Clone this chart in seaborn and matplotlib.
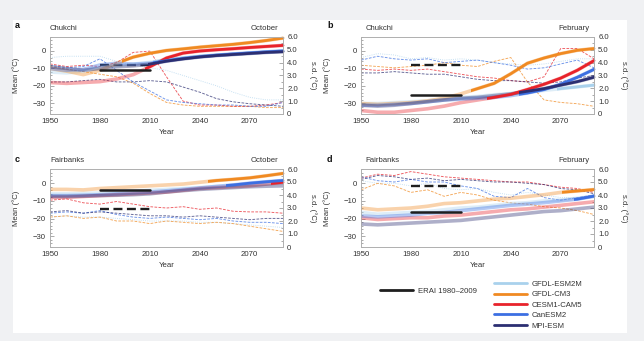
import matplotlib
matplotlib.use("Agg")
import matplotlib.pyplot as plt
import numpy as np
import seaborn as sns
from matplotlib.patches import Rectangle
from matplotlib.lines import Line2D
from matplotlib.ticker import MultipleLocator, FuncFormatter

sns.set_style("white")
plt.rcParams['font.family'] = ['Liberation Sans', 'DejaVu Sans']

# ---------------- data ----------------
years = [1950, 1960, 1970, 1980, 1990, 2000, 2010, 2020, 2030, 2040, 2050, 2060, 2070, 2080, 2090]
models = ['GFDL-ESM2M', 'GFDL-CM3', 'CESM1-CAM5', 'CanESM2', 'MPI-ESM']
erai_years = [1980, 2010]
erai_label = 'ERAI 1980\u20132009'

# Panel a: Chukchi, October
a_mean_esm2m = [-12, -12.5, -11.5, -9.5, -8.5, -7.5, -6.5, -5, -4, -3, -2.4, -1.8, -1.2, -0.6, 0]
a_mean_cm3 = [-10, -11.5, -13.5, -11, -7, -3.5, -1.3, 0.3, 1.2, 2.2, 3, 3.8, 4.8, 6, 7.4]
a_mean_cesm = [-18, -18.5, -18, -17.5, -16, -13.5, -9, -4, -1.2, 0, 0.7, 1.3, 2, 2.6, 3.2]
a_mean_can = [-10, -11, -10.5, -8, -7, -7.5, -7, -5.5, -4.2, -3.2, -2.4, -1.7, -1.1, -0.5, 0]
a_mean_mpi = [-9, -10, -11, -10, -9, -8.5, -7.5, -5.8, -4.5, -3.4, -2.6, -2, -1.4, -0.8, -0.4]
a_sd_esm2m = [4.4, 4.5, 4.5, 4.5, 4.1, 3.8, 3.6, 3.4, 3.0, 2.6, 2.2, 1.7, 1.3, 1.1, 1.1]
a_sd_cm3 = [3.7, 3.5, 3.3, 3.1, 2.9, 2.4, 1.6, 0.9, 0.7, 0.6, 0.6, 0.6, 0.6, 0.5, 0.5]
a_sd_cesm = [3.9, 3.7, 3.8, 3.7, 4.0, 4.8, 4.9, 2.9, 1.0, 0.7, 0.7, 0.6, 0.6, 0.7, 0.9]
a_sd_can = [3.8, 3.6, 3.7, 4.3, 3.4, 2.5, 1.8, 1.1, 0.9, 0.8, 0.7, 0.7, 0.6, 0.6, 0.9]
a_sd_mpi = [2.5, 2.5, 2.6, 2.7, 2.5, 2.5, 2.6, 2.5, 2.1, 1.7, 1.2, 0.95, 0.8, 0.7, 0.6]
a_erai_mean = -11
a_erai_sd = 3.85
a_emerge = [2012, 1993, 2007, 2012, 2009]

# Panel b: Chukchi, February
b_mean_esm2m = [-30, -30, -29.5, -29, -28.5, -27.5, -26.5, -26, -25, -24.3, -23.5, -22.5, -21.5, -20.5, -19.5]
b_mean_cm3 = [-30, -30.5, -30, -29.5, -28.5, -27, -24.5, -21.5, -18.5, -13, -7, -4, -1.5, 0.4, 1.4]
b_mean_cesm = [-34, -35, -35, -34, -33, -31.5, -29.5, -28, -26.5, -24.8, -22, -19, -15.5, -11, -5.5]
b_mean_can = [-31, -31, -30.5, -30, -29, -28, -27.5, -27, -26.5, -25.5, -24, -22, -19, -15, -10.5]
b_mean_mpi = [-31, -31.5, -31, -30, -29, -28, -27, -26.5, -25.5, -24.5, -23, -21.5, -19.5, -17.5, -15]
b_sd_esm2m = [4.4, 4.7, 4.6, 4.3, 4.4, 4.2, 4.3, 4.2, 4.0, 3.9, 3.8, 3.9, 4.1, 4.3, 4.3]
b_sd_cm3 = [3.8, 3.7, 3.6, 3.7, 3.8, 4.0, 3.8, 3.7, 4.1, 4.4, 2.5, 1.1, 0.9, 0.8, 0.6]
b_sd_cesm = [3.5, 3.4, 3.5, 3.4, 3.5, 3.3, 3.1, 2.9, 2.8, 2.6, 2.5, 2.9, 5.1, 5.1, 4.3]
b_sd_can = [4.2, 4.5, 4.3, 4.2, 4.3, 4.0, 4.1, 4.2, 4.0, 3.8, 3.5, 3.6, 3.9, 4.2, 3.6]
b_sd_mpi = [3.2, 3.2, 3.3, 3.2, 3.1, 3.1, 2.9, 2.7, 2.6, 2.6, 2.5, 2.4, 2.5, 2.8, 3.0]
b_erai_mean = -25.3
b_erai_sd = 3.85
b_emerge = [2068, 2016, 2026, 2045, 2045]

# Panel c: Fairbanks, October
c_mean_esm2m = [-6, -6, -5.8, -5.5, -5, -4.5, -4, -3.5, -3, -2.5, -2, -1.5, -1, -0.5, 0]
c_mean_cm3 = [-3.5, -3.5, -3.8, -3, -2.5, -2, -1.5, -1, -0.5, 0.5, 1.5, 2.2, 3, 4.2, 5.5]
c_mean_cesm = [-8, -8, -7.5, -7, -6.5, -6, -5.5, -5, -4, -3, -2.5, -2, -1.5, -0.5, 0.5]
c_mean_can = [-7, -7, -6.8, -6.5, -6, -5.5, -5, -4.3, -3.5, -2.7, -1.8, -1, 0, 0.8, 1.5]
c_mean_mpi = [-7.5, -7.5, -7.3, -7, -6.8, -6.5, -6, -5, -4.2, -3.5, -3, -2.5, -2, -1.7, -1.5]
c_sd_esm2m = [2.3, 2.4, 2.3, 2.3, 2.2, 2.1, 2.0, 2.0, 2.0, 1.9, 1.9, 1.8, 1.7, 1.6, 1.5]
c_sd_cm3 = [2.3, 2.4, 2.2, 2.3, 2.0, 2.0, 1.8, 2.0, 1.9, 1.8, 1.9, 1.8, 1.6, 1.4, 1.2]
c_sd_cesm = [3.6, 3.7, 3.4, 3.3, 3.5, 3.3, 3.1, 3.0, 3.1, 2.9, 3.0, 2.75, 2.7, 2.7, 2.6]
c_sd_can = [2.6, 2.7, 2.6, 2.8, 2.5, 2.3, 2.2, 2.3, 2.2, 2.1, 2.2, 2.0, 1.9, 1.9, 1.8]
c_sd_mpi = [2.7, 2.8, 2.6, 2.7, 2.6, 2.5, 2.4, 2.4, 2.3, 2.4, 2.3, 2.2, 2.1, 2.2, 2.2]
c_erai_mean = -4
c_erai_sd = 2.9
c_emerge = [None, 2045, 2083, 2056, None]

# Panel d: Fairbanks, February
d_mean_esm2m = [-16.5, -17.5, -17, -16.5, -16, -15, -14, -13.5, -12.5, -11.5, -11, -10, -9.5, -8.5, -7.5]
d_mean_cm3 = [-14, -15, -14.5, -14, -13, -11.5, -11, -10, -9, -8.5, -7.5, -6.5, -5.2, -4.4, -3.6]
d_mean_cesm = [-19.5, -20.5, -20, -19.5, -19.5, -18.5, -18, -17, -16, -15, -14.5, -13.5, -12.5, -11.5, -10.5]
d_mean_can = [-18.5, -19, -18.5, -18, -17, -16.5, -15.5, -14.5, -13.5, -12.5, -11.8, -11, -10, -9, -7.3]
d_mean_mpi = [-23, -23.5, -23, -22.5, -22, -21.5, -21, -20, -19, -18, -17, -16, -15.5, -14.5, -13.5]
d_sd_esm2m = [5.1, 4.9, 4.9, 4.7, 4.9, 4.5, 4.4, 4.5, 4.2, 4.0, 4.2, 4.0, 3.8, 3.8, 3.9]
d_sd_cm3 = [4.4, 4.9, 4.7, 4.2, 4.4, 3.9, 4.2, 4.0, 3.6, 3.4, 3.3, 3.1, 3.0, 2.8, 2.5]
d_sd_cesm = [5.3, 5.6, 5.5, 5.8, 5.6, 5.4, 5.3, 5.2, 5.1, 5.0, 5.0, 4.8, 4.6, 4.5, 4.2]
d_sd_can = [5.4, 5.1, 5.0, 5.2, 5.0, 5.0, 4.7, 4.5, 3.9, 3.8, 4.5, 3.8, 3.6, 3.8, 4.0]
d_sd_mpi = [5.2, 5.5, 5.4, 5.2, 5.3, 5.1, 5.2, 5.1, 5.0, 5.0, 4.9, 4.8, 4.5, 4.4, 4.1]
d_erai_mean = -16.2
d_erai_sd = 4.7
d_emerge = [None, 2071, None, 2078, None]

# ---------------- style ----------------
colors = ['#a9d1ec', '#f08a22', '#e8232b', '#3c6fe2', '#2c2f72']
sd_dash = [(0, (1.0, 1.4)), (0, (3, 1.5)), (0, (3, 1.5)), (0, (3, 1.5)), (0, (3, 1.5))]

W, H = 644, 341
fig = plt.figure(figsize=(W / 100, H / 100), dpi=100)
fig.patch.set_facecolor('#f0f1f3')
fig.add_artist(Rectangle((13 / W, 1 - 333 / H), 614 / W, 313 / H, transform=fig.transFigure,
                         facecolor='white', edgecolor='none', zorder=0))


def rect(l, t, r, b):
    return [l / W, 1 - b / H, (r - l) / W, (b - t) / H]


panels = [
    dict(rect=rect(50, 37, 283, 114), letter='a', lxy=(15, 25), left='Chukchi', right='October', tdx=0,
         means=[a_mean_esm2m, a_mean_cm3, a_mean_cesm, a_mean_can, a_mean_mpi],
         sds=[a_sd_esm2m, a_sd_cm3, a_sd_cesm, a_sd_can, a_sd_mpi],
         em=a_emerge, erm=a_erai_mean, ers=a_erai_sd),
    dict(rect=rect(361, 37, 594, 114), letter='b', lxy=(327, 25), left='Chukchi', right='February', tdx=3,
         means=[b_mean_esm2m, b_mean_cm3, b_mean_cesm, b_mean_can, b_mean_mpi],
         sds=[b_sd_esm2m, b_sd_cm3, b_sd_cesm, b_sd_can, b_sd_mpi],
         em=b_emerge, erm=b_erai_mean, ers=b_erai_sd),
    dict(rect=rect(50, 169, 283, 247), letter='c', lxy=(15, 160), left='Fairbanks', right='October', tdx=0,
         means=[c_mean_esm2m, c_mean_cm3, c_mean_cesm, c_mean_can, c_mean_mpi],
         sds=[c_sd_esm2m, c_sd_cm3, c_sd_cesm, c_sd_can, c_sd_mpi],
         em=c_emerge, erm=c_erai_mean, ers=c_erai_sd),
    dict(rect=rect(361, 169, 594, 247), letter='d', lxy=(327, 160), left='Fairbanks', right='February', tdx=3,
         means=[d_mean_esm2m, d_mean_cm3, d_mean_cesm, d_mean_can, d_mean_mpi],
         sds=[d_sd_esm2m, d_sd_cm3, d_sd_cesm, d_sd_can, d_sd_mpi],
         em=d_emerge, erm=d_erai_mean, ers=d_erai_sd),
]

FS = 5.6
TXT = '#333333'
SP = '#b0b0b0'

for p in panels:
    ax = fig.add_axes(p['rect'])
    ax2 = ax.twinx()
    # s.d. lines (right axis)
    for i, m in enumerate(models):
        sns.lineplot(x=years, y=p['sds'][i], ax=ax2, color=colors[i], lw=0.65,
                     linestyle=sd_dash[i], alpha=0.75, legend=False)
    sns.lineplot(x=erai_years, y=[p['ers'], p['ers']], ax=ax2, color='#1e1e1e', lw=1.7,
                 linestyle=(0, (3.8, 1.9)), legend=False)
    # mean lines (left axis)
    for i, m in enumerate(models):
        sns.lineplot(x=years, y=p['means'][i], ax=ax, color=colors[i], lw=2.6, alpha=0.38, legend=False)
    for i, m in enumerate(models):
        if p['em'][i] is not None:
            sns.lineplot(x=years, y=p['means'][i], ax=ax, color=colors[i], lw=2.0, legend=False)
            ln = ax.lines[-1]
            ln.set_clip_path(Rectangle((p['em'][i], -100), 300, 300, transform=ax.transData))
    sns.lineplot(x=erai_years, y=[p['erm'], p['erm']], ax=ax, color='#1e1e1e', lw=1.8, legend=False)

    ax.set_zorder(ax2.get_zorder() + 1)
    ax.patch.set_visible(False)
    ax2.patch.set_visible(False)

    ax.set_xlim(1950, 2090)
    ax.set_ylim(-36, 8)
    ax2.set_ylim(0, 6)
    ax.set_xticks([1950, 1980, 2010, 2040, 2070])
    ax.xaxis.set_minor_locator(MultipleLocator(10))
    ax.set_yticks([0, -10, -20, -30])
    ax.yaxis.set_minor_locator(MultipleLocator(2))
    ax2.set_yticks([0, 1, 2, 3, 4, 5, 6])
    ax2.yaxis.set_minor_locator(MultipleLocator(0.5))
    ax2.yaxis.set_major_formatter(FuncFormatter(lambda v, _: '0' if v == 0 else f'{v:.1f}'))
    for a_ in (ax, ax2):
        a_.tick_params(which='both', direction='in', color='#888888', width=0.5,
                       labelsize=FS, labelcolor=TXT, pad=3)
        a_.tick_params(which='major', length=2.6)
        a_.tick_params(which='minor', length=1.5)
        for s in a_.spines.values():
            s.set_color(SP)
            s.set_linewidth(0.6)
    ax.set_xlabel('Year', fontsize=FS, color=TXT, labelpad=2.5)
    ax.set_ylabel('Mean (\u00b0C)', fontsize=FS, color=TXT)
    ax.yaxis.set_label_coords(-0.13, 0.5)
    ax2.set_ylabel('s.d. (\u00b0C)', fontsize=FS, color=TXT, rotation=270, va='center')
    ax2.yaxis.set_label_coords(1.13, 0.5)

    ax.annotate(p['left'], xy=(0, 1), xycoords='axes fraction', xytext=(p['tdx'], 3.5),
                textcoords='offset points', ha='left', va='bottom', fontsize=FS, color=TXT)
    ax.annotate(p['right'], xy=(1, 1), xycoords='axes fraction', xytext=(-3.5, 3.5),
                textcoords='offset points', ha='right', va='bottom', fontsize=FS, color=TXT)
    fig.text(p['lxy'][0] / W, 1 - p['lxy'][1] / H, p['letter'], fontsize=6.5, weight='bold',
             ha='left', va='center', color='#111111')

# legends
h_erai = [Line2D([], [], color='#1e1e1e', lw=2.0)]
fig.legend(h_erai, [erai_label], loc='center left', bbox_to_anchor=(380 / W, 1 - 291 / H),
           frameon=False, fontsize=FS, handlelength=4.3, handletextpad=0.55,
           borderpad=0, borderaxespad=0, labelcolor=TXT)
h_mod = [Line2D([], [], color=c, lw=2.0) for c in colors]
fig.legend(h_mod, models, loc='upper left', bbox_to_anchor=(494 / W, 1 - 280.5 / H),
           frameon=False, fontsize=FS, handlelength=4.3, handletextpad=0.55,
           borderpad=0, borderaxespad=0, labelspacing=0.38, labelcolor=TXT)

fig.savefig('out.png', dpi=100, facecolor=fig.get_facecolor())
